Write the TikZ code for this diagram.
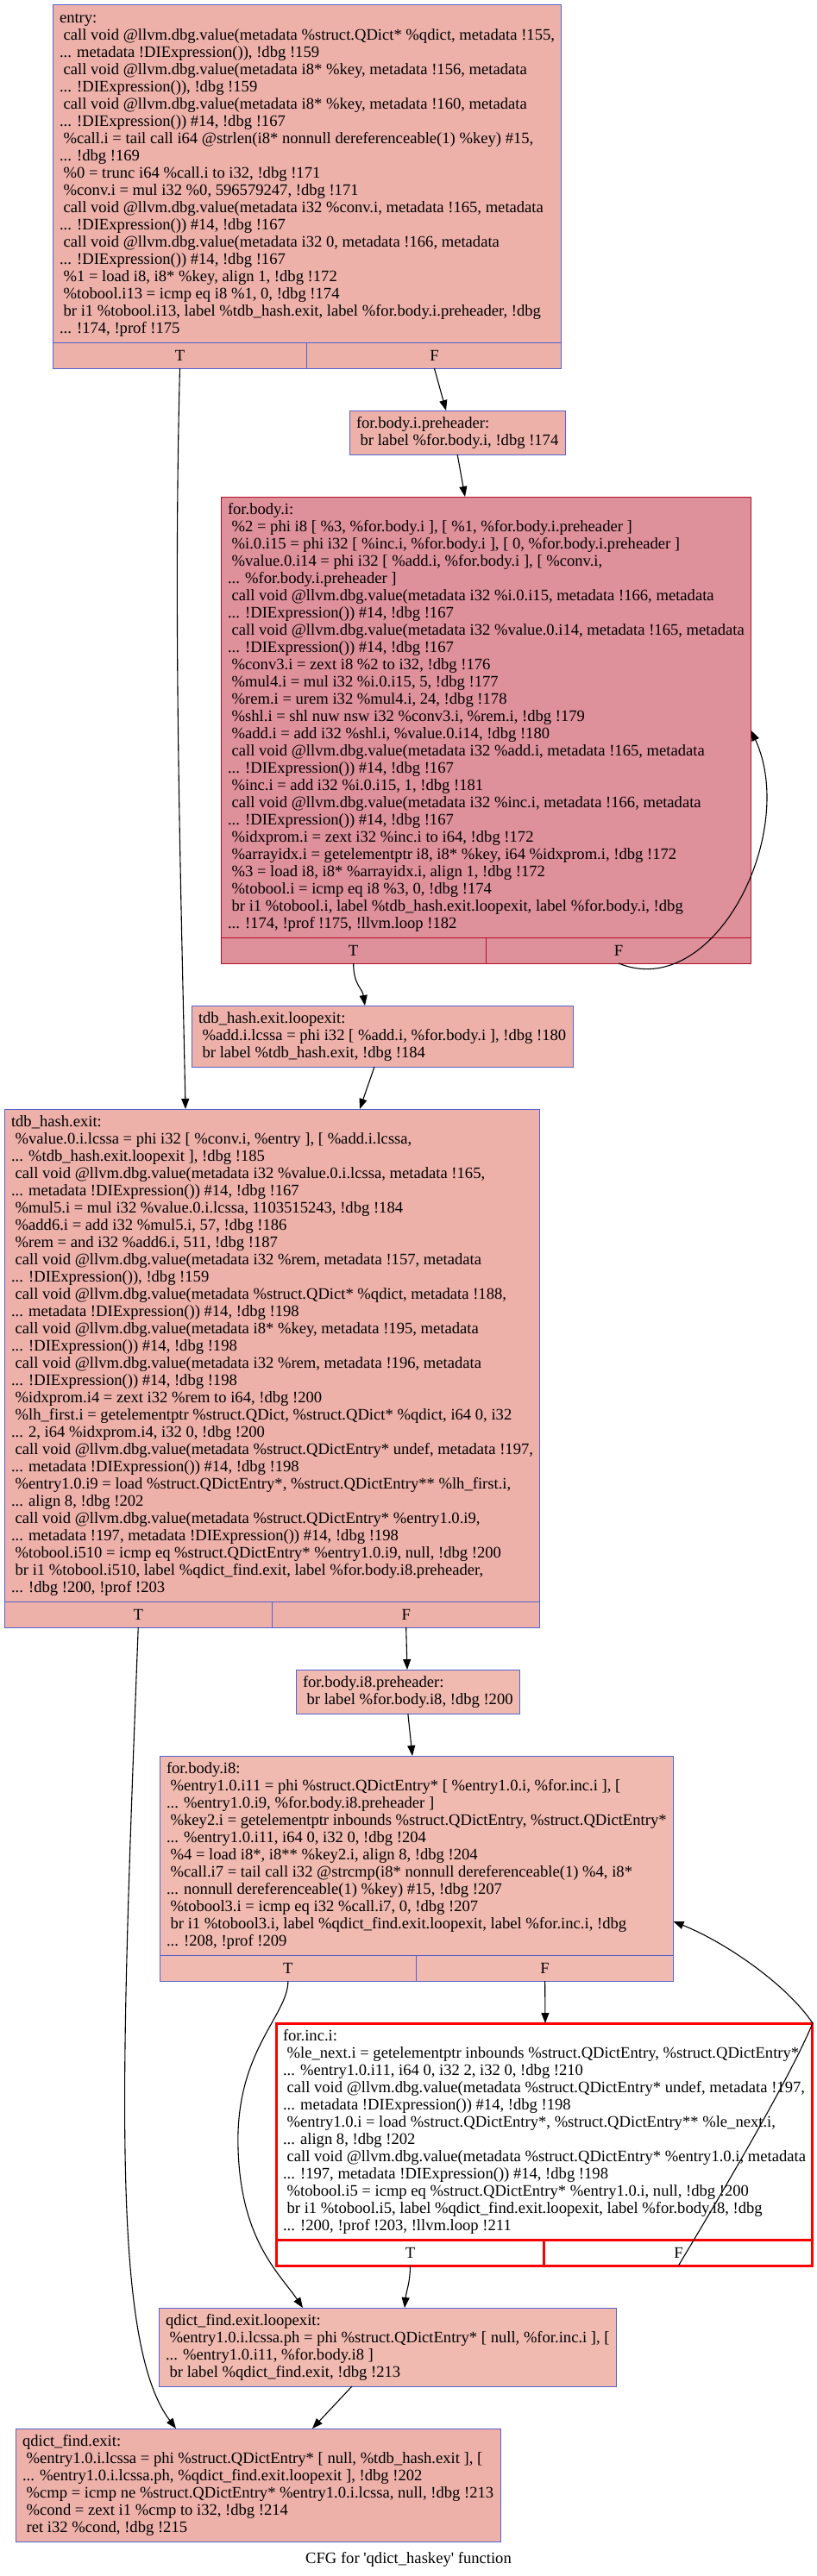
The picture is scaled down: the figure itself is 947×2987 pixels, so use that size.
\documentclass[tikz,border=0pt]{standalone}
\usepackage{fontspec}
\setmainfont{Liberation Serif}
\usetikzlibrary{calc,arrows.meta}
\definecolor{bblue}{RGB}{85,98,205}
\definecolor{fillA}{RGB}{237,177,170}
\definecolor{fillB}{RGB}{241,186,176}
\definecolor{fillH}{RGB}{222,144,155}
\definecolor{bred}{RGB}{183,13,40}
\newcommand{\blkfont}{\fontsize{18.6}{20}\selectfont}
\newcommand{\Sa}{\rule{0pt}{14.5pt}}
\newcommand{\Sb}{\rule[-5.5pt]{0pt}{5.5pt}}
\newcommand{\lsp}{\hspace*{0.25em}}
\newcommand{\tfrow}[2]{\path let \p1=($(#1.south east)-(#1.south west)$) in
  node[tfcell,#2,anchor=north west,minimum width=0.5*\x1] (#1T) at (#1.south west) {T}
  node[tfcell,#2,anchor=north east,minimum width=0.5*\x1] (#1F) at (#1.south east) {F};}
\tikzset{
  blk/.style={draw=bblue, fill=fillA, line width=1pt, align=left, anchor=north west,
    inner xsep=8pt, inner ysep=5.5pt, outer sep=0pt, font=\blkfont},
  tfcell/.style={draw=bblue, fill=fillA, line width=1pt, minimum height=30pt,
    inner sep=0pt, outer sep=0pt, font=\blkfont},
  hot/.style={draw=bred, fill=fillH},
  lighter/.style={fill=fillB},
  redx/.style={draw=red, fill=white, line width=3pt},
  cfgedge/.style={draw=black, line width=1.1pt, -{Triangle[length=12pt,width=9pt]}},
}
\begin{document}
\begin{tikzpicture}[x=1pt,y=-1pt]
\useasboundingbox (0,0) rectangle (947,2987);

\node[blk] (entry) at (61,6) {\Sa entry:\\
\lsp call void @llvm.dbg.value(metadata \%struct.QDict* \%qdict, metadata !155,\\
... metadata !DIExpression()), !dbg !159\\
\lsp call void @llvm.dbg.value(metadata i8* \%key, metadata !156, metadata\\
... !DIExpression()), !dbg !159\\
\lsp call void @llvm.dbg.value(metadata i8* \%key, metadata !160, metadata\\
... !DIExpression()) \#14, !dbg !167\\
\lsp \%call.i = tail call i64 @strlen(i8* nonnull dereferenceable(1) \%key) \#15,\\
... !dbg !169\\
\lsp \%0 = trunc i64 \%call.i to i32, !dbg !171\\
\lsp \%conv.i = mul i32 \%0, 596579247, !dbg !171\\
\lsp call void @llvm.dbg.value(metadata i32 \%conv.i, metadata !165, metadata\\
... !DIExpression()) \#14, !dbg !167\\
\lsp call void @llvm.dbg.value(metadata i32 0, metadata !166, metadata\\
... !DIExpression()) \#14, !dbg !167\\
\lsp \%1 = load i8, i8* \%key, align 1, !dbg !172\\
\lsp \%tobool.i13 = icmp eq i8 \%1, 0, !dbg !174\\
\lsp br i1 \%tobool.i13, label \%tdb\_hash.exit, label \%for.body.i.preheader, !dbg\\
... !174, !prof !175\Sb};
\tfrow{entry}{}

\node[blk] (pre) at (405,476) {\Sa for.body.i.preheader:\\
\lsp br label \%for.body.i, !dbg !174\Sb};

\node[blk,hot] (fbi) at (256,576) {\Sa for.body.i:\\
\lsp \%2 = phi i8 [ \%3, \%for.body.i ], [ \%1, \%for.body.i.preheader ]\\
\lsp \%i.0.i15 = phi i32 [ \%inc.i, \%for.body.i ], [ 0, \%for.body.i.preheader ]\\
\lsp \%value.0.i14 = phi i32 [ \%add.i, \%for.body.i ], [ \%conv.i,\\
... \%for.body.i.preheader ]\\
\lsp call void @llvm.dbg.value(metadata i32 \%i.0.i15, metadata !166, metadata\\
... !DIExpression()) \#14, !dbg !167\\
\lsp call void @llvm.dbg.value(metadata i32 \%value.0.i14, metadata !165, metadata\\
... !DIExpression()) \#14, !dbg !167\\
\lsp \%conv3.i = zext i8 \%2 to i32, !dbg !176\\
\lsp \%mul4.i = mul i32 \%i.0.i15, 5, !dbg !177\\
\lsp \%rem.i = urem i32 \%mul4.i, 24, !dbg !178\\
\lsp \%shl.i = shl nuw nsw i32 \%conv3.i, \%rem.i, !dbg !179\\
\lsp \%add.i = add i32 \%shl.i, \%value.0.i14, !dbg !180\\
\lsp call void @llvm.dbg.value(metadata i32 \%add.i, metadata !165, metadata\\
... !DIExpression()) \#14, !dbg !167\\
\lsp \%inc.i = add i32 \%i.0.i15, 1, !dbg !181\\
\lsp call void @llvm.dbg.value(metadata i32 \%inc.i, metadata !166, metadata\\
... !DIExpression()) \#14, !dbg !167\\
\lsp \%idxprom.i = zext i32 \%inc.i to i64, !dbg !172\\
\lsp \%arrayidx.i = getelementptr i8, i8* \%key, i64 \%idxprom.i, !dbg !172\\
\lsp \%3 = load i8, i8* \%arrayidx.i, align 1, !dbg !172\\
\lsp \%tobool.i = icmp eq i8 \%3, 0, !dbg !174\\
\lsp br i1 \%tobool.i, label \%tdb\_hash.exit.loopexit, label \%for.body.i, !dbg\\
... !174, !prof !175, !llvm.loop !182\Sb};
\tfrow{fbi}{hot}

\node[blk] (lpx) at (222,1166) {\Sa tdb\_hash.exit.loopexit:\\
\lsp \%add.i.lcssa = phi i32 [ \%add.i, \%for.body.i ], !dbg !180\\
\lsp br label \%tdb\_hash.exit, !dbg !184\Sb};

\node[blk] (tdb) at (5,1286) {\Sa tdb\_hash.exit:\\
\lsp \%value.0.i.lcssa = phi i32 [ \%conv.i, \%entry ], [ \%add.i.lcssa,\\
... \%tdb\_hash.exit.loopexit ], !dbg !185\\
\lsp call void @llvm.dbg.value(metadata i32 \%value.0.i.lcssa, metadata !165,\\
... metadata !DIExpression()) \#14, !dbg !167\\
\lsp \%mul5.i = mul i32 \%value.0.i.lcssa, 1103515243, !dbg !184\\
\lsp \%add6.i = add i32 \%mul5.i, 57, !dbg !186\\
\lsp \%rem = and i32 \%add6.i, 511, !dbg !187\\
\lsp call void @llvm.dbg.value(metadata i32 \%rem, metadata !157, metadata\\
... !DIExpression()), !dbg !159\\
\lsp call void @llvm.dbg.value(metadata \%struct.QDict* \%qdict, metadata !188,\\
... metadata !DIExpression()) \#14, !dbg !198\\
\lsp call void @llvm.dbg.value(metadata i8* \%key, metadata !195, metadata\\
... !DIExpression()) \#14, !dbg !198\\
\lsp call void @llvm.dbg.value(metadata i32 \%rem, metadata !196, metadata\\
... !DIExpression()) \#14, !dbg !198\\
\lsp \%idxprom.i4 = zext i32 \%rem to i64, !dbg !200\\
\lsp \%lh\_first.i = getelementptr \%struct.QDict, \%struct.QDict* \%qdict, i64 0, i32\\
... 2, i64 \%idxprom.i4, i32 0, !dbg !200\\
\lsp call void @llvm.dbg.value(metadata \%struct.QDictEntry* undef, metadata !197,\\
... metadata !DIExpression()) \#14, !dbg !198\\
\lsp \%entry1.0.i9 = load \%struct.QDictEntry*, \%struct.QDictEntry** \%lh\_first.i,\\
... align 8, !dbg !202\\
\lsp call void @llvm.dbg.value(metadata \%struct.QDictEntry* \%entry1.0.i9,\\
... metadata !197, metadata !DIExpression()) \#14, !dbg !198\\
\lsp \%tobool.i510 = icmp eq \%struct.QDictEntry* \%entry1.0.i9, null, !dbg !200\\
\lsp br i1 \%tobool.i510, label \%qdict\_find.exit, label \%for.body.i8.preheader,\\
... !dbg !200, !prof !203\Sb};
\tfrow{tdb}{}

\node[blk,lighter] (ipre) at (343,1936) {\Sa for.body.i8.preheader:\\
\lsp br label \%for.body.i8, !dbg !200\Sb};

\node[blk,lighter] (fbe) at (185,2036) {\Sa for.body.i8:\\
\lsp \%entry1.0.i11 = phi \%struct.QDictEntry* [ \%entry1.0.i, \%for.inc.i ], [\\
... \%entry1.0.i9, \%for.body.i8.preheader ]\\
\lsp \%key2.i = getelementptr inbounds \%struct.QDictEntry, \%struct.QDictEntry*\\
... \%entry1.0.i11, i64 0, i32 0, !dbg !204\\
\lsp \%4 = load i8*, i8** \%key2.i, align 8, !dbg !204\\
\lsp \%call.i7 = tail call i32 @strcmp(i8* nonnull dereferenceable(1) \%4, i8*\\
... nonnull dereferenceable(1) \%key) \#15, !dbg !207\\
\lsp \%tobool3.i = icmp eq i32 \%call.i7, 0, !dbg !207\\
\lsp br i1 \%tobool3.i, label \%qdict\_find.exit.loopexit, label \%for.inc.i, !dbg\\
... !208, !prof !209\Sb};
\tfrow{fbe}{lighter}

\node[blk,redx] (finc) at (320,2346) {\Sa for.inc.i:\\
\lsp \%le\_next.i = getelementptr inbounds \%struct.QDictEntry, \%struct.QDictEntry*\\
... \%entry1.0.i11, i64 0, i32 2, i32 0, !dbg !210\\
\lsp call void @llvm.dbg.value(metadata \%struct.QDictEntry* undef, metadata !197,\\
... metadata !DIExpression()) \#14, !dbg !198\\
\lsp \%entry1.0.i = load \%struct.QDictEntry*, \%struct.QDictEntry** \%le\_next.i,\\
... align 8, !dbg !202\\
\lsp call void @llvm.dbg.value(metadata \%struct.QDictEntry* \%entry1.0.i, metadata\\
... !197, metadata !DIExpression()) \#14, !dbg !198\\
\lsp \%tobool.i5 = icmp eq \%struct.QDictEntry* \%entry1.0.i, null, !dbg !200\\
\lsp br i1 \%tobool.i5, label \%qdict\_find.exit.loopexit, label \%for.body.i8, !dbg\\
... !200, !prof !203, !llvm.loop !211\Sb};
\tfrow{finc}{redx}

\node[blk,lighter] (qfl) at (184,2676) {\Sa qdict\_find.exit.loopexit:\\
\lsp \%entry1.0.i.lcssa.ph = phi \%struct.QDictEntry* [ null, \%for.inc.i ], [\\
... \%entry1.0.i11, \%for.body.i8 ]\\
\lsp br label \%qdict\_find.exit, !dbg !213\Sb};

\node[blk] (qfe) at (18,2816) {\Sa qdict\_find.exit:\\
\lsp \%entry1.0.i.lcssa = phi \%struct.QDictEntry* [ null, \%tdb\_hash.exit ], [\\
... \%entry1.0.i.lcssa.ph, \%qdict\_find.exit.loopexit ], !dbg !202\\
\lsp \%cmp = icmp ne \%struct.QDictEntry* \%entry1.0.i.lcssa, null, !dbg !213\\
\lsp \%cond = zext i1 \%cmp to i32, !dbg !214\\
\lsp ret i32 \%cond, !dbg !215\Sb};

\node[font=\blkfont, anchor=base, inner sep=0pt] (cap) at (473.5,2972)
  {CFG for \textquotesingle qdict\_haskey\textquotesingle\ function};

% edges
\draw[cfgedge] (entryT.south) .. controls ($(entryT.south)+(-8,300)$) and ($(tdb.north west)+(205,-250)$) .. ($(tdb.north west)+(210,0)$);
\draw[cfgedge] (entryF.south) -- ($(pre.north west)+(112,0)$);
\draw[cfgedge] (pre.south) -- ($(fbi.north west)+(283,0)$);
\draw[cfgedge] (fbiT.south) .. controls ($(fbiT.south)+(0,25)$) and ($(lpx.north west)+(198,-20)$) .. ($(lpx.north west)+(201,0)$);
\draw[cfgedge] (fbiF.south) .. controls ($(fbiF.south)+(110,45)$) and ($(fbi.south east)+(55,-120)$) .. ($(fbi.south east)+(0,-240)$);
\draw[cfgedge] ($(lpx.south west)+(212,0)$) -- ($(tdb.north west)+(412,0)$);
\draw[cfgedge] (tdbT.south) .. controls ($(tdbT.south)+(-20,520)$) and ($(qfe.north west)+(110,-100)$) .. ($(qfe.north west)+(186,0)$);
\draw[cfgedge] (tdbF.south) -- ($(ipre.north west)+(129,0)$);
\draw[cfgedge] (ipre.south) -- ($(fbe.north west)+(293,0)$);
\draw[cfgedge] (fbeT.south) .. controls ($(fbeT.south)+(0,40)$) and ($(fbeT.south)+(-60,80)$) .. ($(fbeT.south)+(-58,190)$)
  .. controls ($(fbeT.south)+(-56,300)$) and ($(qfl.north west)+(140,-40)$) .. ($(qfl.north west)+(167,0)$);
\draw[cfgedge] (fbeF.south) -- ($(finc.north west)+(312,0)$);
\draw[cfgedge] (fincT.south) .. controls ($(fincT.south)+(0,20)$) and ($(qfl.north west)+(287,-20)$) .. ($(qfl.north west)+(285,0)$);
\draw[cfgedge] (fincF.south) .. controls ($(fincF.south)+(60,-100)$) and ($(finc.north east)+(-25,60)$) .. (finc.north east)
  .. controls ($(finc.north east)+(-30,-45)$) and ($(fbe.south east)+(60,-15)$) .. ($(fbe.south east)+(0,-39)$);
\draw[cfgedge] ($(qfl.south west)+(224,0)$) -- ($(qfe.north west)+(344,0)$);
\end{tikzpicture}
\end{document}
